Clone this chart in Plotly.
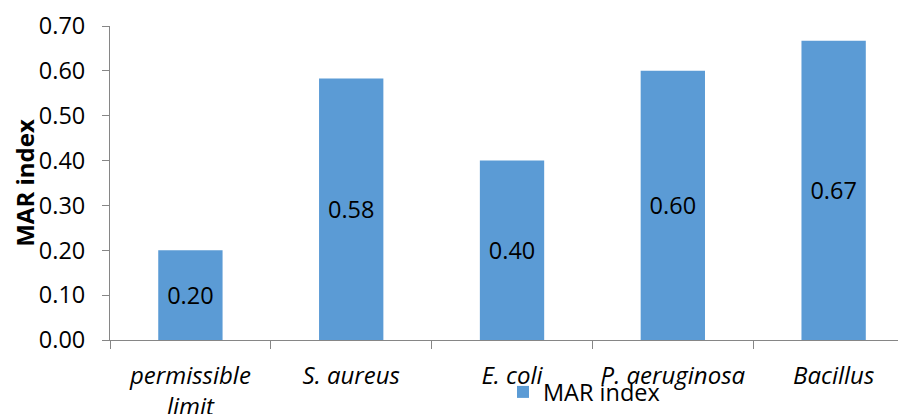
import plotly.graph_objects as go

categories = ["<i>permissible<br>limit</i>", "<i>S. aureus</i>", "<i>E. coli</i>",
              "<i>P. aeruginosa</i>", "<i>Bacillus</i>"]
mar_index = [0.20, 0.583, 0.40, 0.60, 0.667]
series_name = "MAR index"
y_ticks = [0.0, 0.1, 0.2, 0.3, 0.4, 0.5, 0.6, 0.7]

FONT = "Open Sans"
fig = go.Figure()
fig.add_trace(go.Bar(
    x=categories, y=mar_index, name=series_name,
    marker=dict(color="#5B9BD5", line=dict(width=0)),
    width=0.4,
    texttemplate="%{y:.2f}", textposition="inside", insidetextanchor="middle",
    textfont=dict(family=FONT, size=23.5, color="black"),
    constraintext="none",
    showlegend=True,
))
fig.update_layout(
    width=906, height=414,
    margin=dict(l=102, r=8, t=18, b=82),
    paper_bgcolor="white", plot_bgcolor="white",
    font=dict(family=FONT, size=23, color="black"),
    showlegend=True,
    legend=dict(orientation="h", x=0.4937, xanchor="left", y=-0.166, yanchor="middle",
                font=dict(family=FONT, size=23.5, color="black"),
                bgcolor="rgba(0,0,0,0)", itemsizing="constant"),
)
fig.update_xaxes(
    range=[-0.5, 4.45], showline=True, linecolor="#868686", linewidth=1,
    ticks="outside", tickson="boundaries", ticklen=8, tickcolor="#868686",
    ticklabelstandoff=14,
    tickfont=dict(family=FONT, size=24, color="black"),
    showgrid=False, zeroline=False, automargin=False,
)
fig.update_yaxes(
    range=[0, 0.7], tickvals=y_ticks, tickformat=".2f",
    showline=True, linecolor="#868686", linewidth=1,
    ticks="outside", ticklen=7, tickcolor="#868686",
    ticklabelstandoff=12,
    tickfont=dict(family=FONT, size=23.5, color="black"),
    title=dict(text="<b>MAR index</b>", font=dict(family=FONT, size=24, color="black"), standoff=4),
    showgrid=False, zeroline=False, automargin=False,
)
fig.write_html("out.html")
